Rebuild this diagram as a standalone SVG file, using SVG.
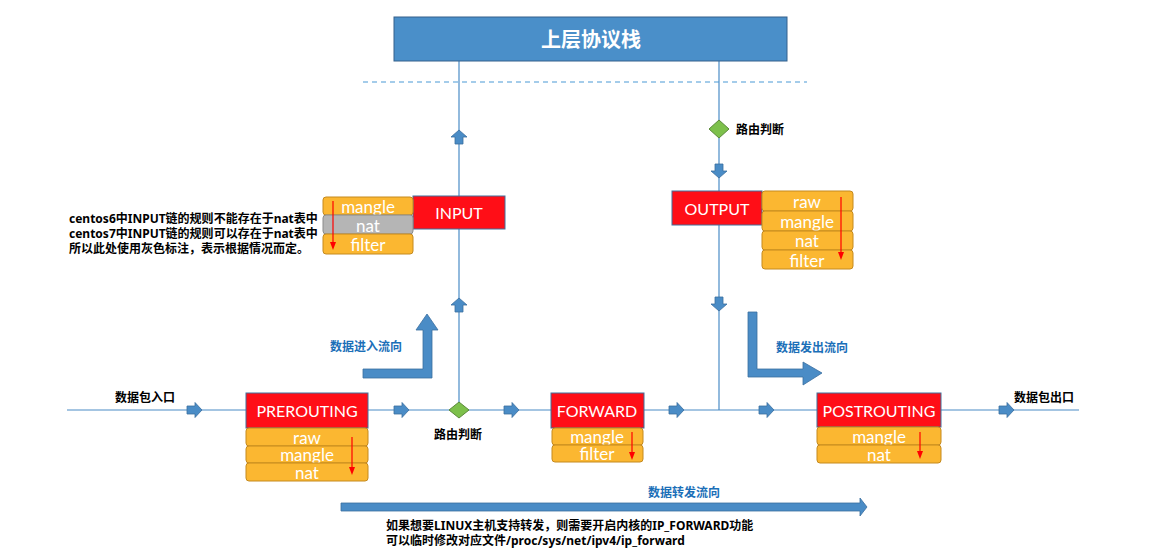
<svg xmlns="http://www.w3.org/2000/svg" width="1154" height="557" viewBox="0 0 1154 557">
<defs>
<style>
.ln{stroke:#4A8CC6;stroke-width:1.2;fill:none}
.blk{fill:#4A8CC6;stroke:#3B6F9F;stroke-width:0.8}
.chain{fill:#FF0E17;stroke:#41719C;stroke-width:1}
.tb{fill:#FBB731;stroke:#C58A1E;stroke-width:1}
.tbg{fill:#B5B5B5;stroke:#8C8C8C;stroke-width:1}
.ct{font-family:Lato,"Liberation Sans",sans-serif;font-size:17px;fill:#fff;text-anchor:middle;dominant-baseline:central}
.tt{font-family:Lato,"Liberation Sans",sans-serif;font-size:16px;fill:#fff;text-anchor:middle;dominant-baseline:central}
.cn{font-family:"Noto Sans","Noto Sans CJK SC",sans-serif;font-weight:bold;font-size:12px;fill:#000;dominant-baseline:central}
.bl{font-family:"Noto Sans","Noto Sans CJK SC",sans-serif;font-weight:bold;font-size:12px;fill:#1B6FB8;dominant-baseline:central}
.dia{fill:#7DC04B;stroke:#5B8A3A;stroke-width:1}
.ra{stroke:#FF0000;stroke-width:1.2;fill:none}
.rh{fill:#FF0000}
</style>
<path id="rarr" d="M-7,-4 h8 v-3.5 l7,7.5 l-7,7.5 v-3.5 h-8 z"/>
<path id="uarr" d="M-4,7 v-7 h-4 l8,-7 l8,7 h-4 v7 z"/>
<path id="darr" d="M-4,-7 v7 h-4 l8,7 l8,-7 h-4 v-7 z"/>
</defs>
<rect width="1154" height="557" fill="#fff"/>

<g id="connectors">
<line class="ln" x1="67" y1="410" x2="1079" y2="410"/>
<line class="ln" x1="459" y1="61" x2="459" y2="410"/>
<line class="ln" x1="719" y1="61" x2="719" y2="410"/>
<line x1="363" y1="82" x2="807" y2="82" stroke="#4A9AD6" stroke-width="1.2" stroke-dasharray="5,4"/>
<use href="#rarr" class="blk" x="194" y="410"/>
<use href="#rarr" class="blk" x="401" y="410"/>
<use href="#rarr" class="blk" x="511" y="410"/>
<use href="#rarr" class="blk" x="676" y="410"/>
<use href="#rarr" class="blk" x="766" y="410"/>
<use href="#rarr" class="blk" x="1006" y="410"/>
<use href="#uarr" class="blk" x="459" y="137"/>
<use href="#uarr" class="blk" x="459" y="305"/>
<use href="#darr" class="blk" x="719" y="171"/>
<use href="#darr" class="blk" x="719" y="304"/>
<path class="blk" d="M363,369 H423 V330 H416 L427,314 L438,330 H432 V378 H363 Z"/>
<path class="blk" d="M748,312 H757 V369 H803 V362 L822,373 L803,385 V377 H748 Z"/>
<path class="blk" d="M341,503 H860 V498 L867,507 L860,516 V511 H341 Z"/>
</g>

<g id="upper-stack">
<rect x="394" y="17" width="393" height="44" fill="#4A8FC9" stroke="#35618C" stroke-width="1"/>
<text x="591" y="40" font-family="'Liberation Sans','Noto Sans CJK SC',sans-serif" font-weight="bold" font-size="20" fill="#fff" text-anchor="middle" dominant-baseline="central">上层协议栈</text>
</g>

<g id="route-top">
<polygon class="dia" points="719,120 729,129 719,138 709,129"/>
<text class="cn" x="736" y="129">路由判断</text>
</g>

<g id="route-bottom">
<polygon class="dia" points="459,402 469,410 459,418 449,410"/>
<text class="cn" x="434" y="434">路由判断</text>
</g>

<g id="input">
<rect class="chain" x="413" y="196" width="92" height="33"/>
<text class="tt" x="459" y="212" font-size="17">INPUT</text>
<rect class="tb" x="323" y="197" width="90" height="18" rx="3"/>
<text class="ct" x="368" y="206">mangle</text>
<rect class="tbg" x="323" y="215" width="90" height="19" rx="3"/>
<text class="ct" x="368" y="225">nat</text>
<rect class="tb" x="323" y="234" width="90" height="20" rx="3"/>
<text class="ct" x="368" y="244">filter</text>
<line class="ra" x1="333" y1="201" x2="333" y2="243"/>
<polygon class="rh" points="330,242 336,242 333,250"/>
<text class="cn" x="69" y="218">centos6中INPUT链的规则不能存在于nat表中</text>
<text class="cn" x="69" y="233">centos7中INPUT链的规则可以存在于nat表中</text>
<text class="cn" x="69" y="248">所以此处使用灰色标注，表示根据情况而定。</text>
</g>

<g id="output">
<rect class="chain" x="672" y="191" width="90" height="34"/>
<text class="tt" x="717" y="208" font-size="17">OUTPUT</text>
<rect class="tb" x="762" y="191" width="91" height="20" rx="3"/>
<text class="ct" x="807" y="201">raw</text>
<rect class="tb" x="762" y="211" width="91" height="20" rx="3"/>
<text class="ct" x="807" y="221">mangle</text>
<rect class="tb" x="762" y="231" width="91" height="19" rx="3"/>
<text class="ct" x="807" y="240">nat</text>
<rect class="tb" x="762" y="250" width="91" height="19" rx="3"/>
<text class="ct" x="807" y="260">filter</text>
<line class="ra" x1="841" y1="197" x2="841" y2="253"/>
<polygon class="rh" points="838,252 844,252 841,260"/>
</g>

<g id="prerouting">
<rect class="chain" x="246" y="393" width="122" height="35"/>
<text class="tt" x="307" y="410">PREROUTING</text>
<rect class="tb" x="246" y="428" width="122" height="18" rx="3"/>
<text class="ct" x="307" y="437">raw</text>
<rect class="tb" x="246" y="446" width="122" height="17" rx="3"/>
<text class="ct" x="307" y="454">mangle</text>
<rect class="tb" x="246" y="463" width="122" height="18" rx="3"/>
<text class="ct" x="307" y="472">nat</text>
<line class="ra" x1="352" y1="437" x2="352" y2="468"/>
<polygon class="rh" points="349,467 355,467 352,475"/>
</g>

<g id="forward">
<rect class="chain" x="551" y="393" width="93" height="35"/>
<text class="tt" x="597" y="410">FORWARD</text>
<rect class="tb" x="552" y="428" width="91" height="17" rx="3"/>
<text class="ct" x="597" y="436">mangle</text>
<rect class="tb" x="552" y="445" width="91" height="17" rx="3"/>
<text class="ct" x="597" y="453">filter</text>
<line class="ra" x1="632" y1="432" x2="632" y2="453"/>
<polygon class="rh" points="629,452 635,452 632,460"/>
</g>

<g id="postrouting">
<rect class="chain" x="817" y="393" width="124" height="34"/>
<text class="tt" x="879" y="410">POSTROUTING</text>
<rect class="tb" x="817" y="427" width="124" height="18" rx="3"/>
<text class="ct" x="879" y="436">mangle</text>
<rect class="tb" x="817" y="445" width="124" height="18" rx="3"/>
<text class="ct" x="879" y="454">nat</text>
<line class="ra" x1="920" y1="432" x2="920" y2="452"/>
<polygon class="rh" points="917,451 923,451 920,459"/>
</g>

<g id="labels">
<text class="cn" x="115" y="397">数据包入口</text>
<text class="cn" x="1014" y="397">数据包出口</text>
<text class="bl" x="330" y="346">数据进入流向</text>
<text class="bl" x="776" y="347">数据发出流向</text>
<text class="bl" x="648" y="492">数据转发流向</text>
<text class="cn" x="386" y="525">如果想要LINUX主机支持转发，则需要开启内核的IP_FORWARD功能</text>
<text class="cn" x="386" y="540">可以临时修改对应文件/proc/sys/net/ipv4/ip_forward</text>
</g>
</svg>
